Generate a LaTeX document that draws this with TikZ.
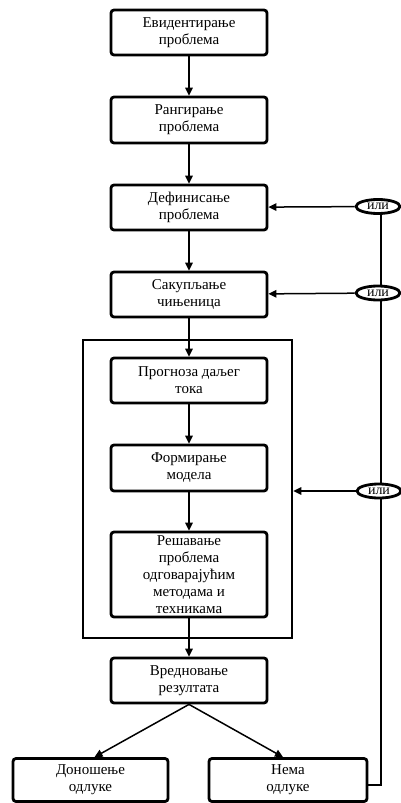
\documentclass[tikz,border=0pt]{standalone}
\usepackage{fontspec}
\setmainfont{Liberation Serif}
\usetikzlibrary{arrows.meta,shapes.geometric,calc}
\begin{document}
\begin{tikzpicture}[x=1pt,y=-1pt,
  stepbox/.style={draw,line width=2.8pt,rounded corners=3pt,minimum width=156pt,
    minimum height=45pt,inner sep=0pt,align=center,
    font=\fontsize{15}{17}\selectfont},
  orbox/.style={draw,ellipse,fill=white,line width=2.8pt,minimum width=44pt,
    minimum height=14pt,inner sep=0pt,font=\fontsize{14}{15}\selectfont},
  frame/.style={draw,line width=2.6pt,minimum width=209pt,minimum height=298pt},
  link/.style={line width=1.5pt,-{Triangle[length=8pt,width=7.5pt]}},
  plain/.style={line width=1.5pt}]
\useasboundingbox (0,0) rectangle (401,803);

% outer frame around the modelling stage
\node[frame] (big) at (187.5,489) {};

% main chain
\node[stepbox] (ev)   at (189,32.5)  {Евидентирање\\проблема};
\node[stepbox,minimum height=46pt] (rang) at (189,120) {Рангирање\\проблема};
\node[stepbox] (def)  at (189,207.5) {Дефинисање\\проблема};
\node[stepbox] (sak)  at (189,294.5) {Сакупљање\\чињеница};
\node[stepbox] (prog) at (189,380.5) {Прогноза даљег\\тока};
\node[stepbox,minimum height=46pt] (form) at (189,468) {Формирање\\модела};
\node[stepbox,minimum height=85pt] (res)  at (189,574.5)
  {Решавање\\проблема\\одговарајућим\\методама и\\техникама};
\node[stepbox] (vred) at (189,680.5) {Вредновање\\резултата};
\node[stepbox,minimum width=155pt,minimum height=43pt] (don)  at (90.5,780) {Доношење\\одлуке};
\node[stepbox,minimum width=158pt,minimum height=43pt] (nema) at (288,780) {Нема\\одлуке};

\draw[link] (ev) -- (rang);
\draw[link] (rang) -- (def);
\draw[link] (def) -- (sak);
\draw[link] (sak) -- (prog);
\draw[link] (prog) -- (form);
\draw[link] (form) -- (res);
\draw[link] (res) -- (vred);
\draw[link] (vred.south) -- ($(don.north)+(4,0)$);
\draw[link] (vred.south) -- ($(nema.north)+(-5,0)$);

% feedback line from "no decision"
\coordinate (fb) at (367,785);
\draw[plain] (fb) -| (381,214);

\node[orbox] (or1) at (378,206.5) {или};
\node[orbox] (or2) at (378,293)   {или};
\node[orbox] (or3) at (379,491)   {или};

\draw[link] (or1) -- (def);
\draw[link] (or2) -- (sak);
\draw[link] (or3) -- (big.east |- or3);
\end{tikzpicture}
\end{document}
